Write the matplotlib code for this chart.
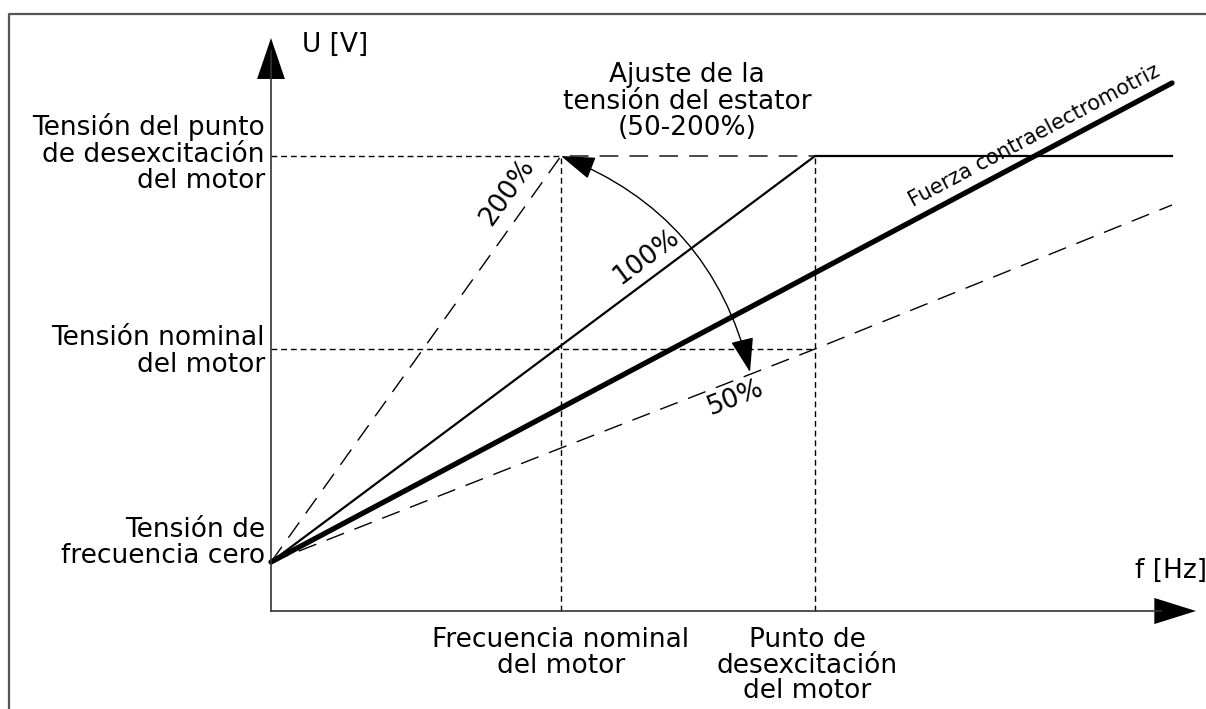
import matplotlib
matplotlib.use("Agg")
import matplotlib.pyplot as plt
from matplotlib.patches import FancyArrowPatch, ArrowStyle

# ---------------- data (diagram units: f to the right, U upwards) ----------------
F_NOM = 290          # nominal motor frequency
F_FW = 544           # field weakening point
F_END = 901          # end of drawn curves
U_ZERO = 49          # zero frequency voltage
U_NOM = 262          # nominal motor voltage
U_FW = 455           # field weakening point voltage

curve_100_f = [0, F_FW, F_END]
curve_100_u = [U_ZERO, U_FW, U_FW]
curve_200_f = [0, F_NOM, F_FW]
curve_200_u = [U_ZERO, U_FW, U_FW]
curve_50_f = [0, F_NOM, F_FW, F_END]
curve_50_u = [U_ZERO, 163, U_NOM, 406]
emf_f = [0, F_END]
emf_u = [U_ZERO, 528]

left_labels = [
    (["Tensión del punto", "de desexcitación", "del motor"], [476, 449, 423]),
    (["Tensión nominal", "del motor"], [266, 239]),
    (["Tensión de", "frecuencia cero"], [74, 48]),
]
bottom_labels = [
    (["Frecuencia nominal", "del motor"], F_NOM, [-36, -62]),
    (["Punto de", "desexcitación", "del motor"], 536, [-36, -62, -87]),
]
title_lines = ["Ajuste de la", "tensión del estator", "(50-200%)"]
title_base = [529, 502, 476]

FS = 19

fig = plt.figure(figsize=(12.06, 7.09), dpi=100)
ax = fig.add_axes([0, 0, 1, 1])
ax.set_xlim(-271, 935)
ax.set_ylim(-98, 611)
ax.axis("off")

# frame (top and left border)
ax.plot([-262, -262, 950], [-120, 597, 597], color="#555555", lw=1.6,
        clip_on=False, solid_capstyle="butt")

# reference (fine dashed) lines
fine = dict(color="black", lw=1.0, dashes=(4.2, 2.8))
ax.plot([0, F_NOM], [U_FW, U_FW], **fine)
ax.plot([0, F_FW], [U_NOM, U_NOM], **fine)
ax.plot([F_NOM, F_NOM], [0, U_FW], **fine)
ax.plot([F_FW, F_FW], [0, U_FW], **fine)

# curves
longd = dict(color="black", lw=1.0, dashes=(13.5, 8.0))
ax.plot(curve_200_f, curve_200_u, **longd)
ax.plot(curve_50_f, curve_50_u, **longd)
ax.plot(curve_100_f, curve_100_u, color="black", lw=1.6, solid_joinstyle="miter")
ax.plot(emf_f, emf_u, color="black", lw=3.8, solid_capstyle="round")

# axes with arrows
ax.plot([0, 0], [0, 560], color="#333333", lw=1.2)
ax.plot([0, 890], [0, 0], color="#333333", lw=1.2)
ax.add_patch(FancyArrowPatch((0, 520), (0, 573),
             arrowstyle=ArrowStyle("-|>", head_length=29.5, head_width=10),
             mutation_scale=1, color="black", lw=0, shrinkA=0, shrinkB=0))
ax.add_patch(FancyArrowPatch((870, 0), (925, 0),
             arrowstyle=ArrowStyle("-|>", head_length=30, head_width=9.4),
             mutation_scale=1, color="black", lw=0, shrinkA=0, shrinkB=0))

# arc double arrow
ax.add_patch(FancyArrowPatch((F_NOM, U_FW), (479, 239),
             arrowstyle=ArrowStyle("<|-|>", head_length=21.5, head_width=7.2),
             connectionstyle="arc3,rad=-0.26", mutation_scale=1,
             color="black", lw=1.0, shrinkA=0, shrinkB=0))

# axis labels
ax.text(31, 559, "U [V]", fontsize=FS, ha="left", va="baseline")
ax.text(864, 33, "f [Hz]", fontsize=FS, ha="left", va="baseline")

for lines, bases in left_labels:
    for s, b in zip(lines, bases):
        ax.text(-6, b, s, fontsize=FS, ha="right", va="baseline")
for lines, xc, bases in bottom_labels:
    for s, b in zip(lines, bases):
        ax.text(xc, b, s, fontsize=FS, ha="center", va="baseline")
for s, b in zip(title_lines, title_base):
    ax.text(416, b, s, fontsize=FS, ha="center", va="baseline")

# rotated labels
rot = dict(ha="center", va="center", rotation_mode="anchor")
ax.text(236, 419, "200%", fontsize=FS, rotation=54.5, **rot)
ax.text(375, 354, "100%", fontsize=FS, rotation=36.7, **rot)
ax.text(465, 213, "50%", fontsize=FS, rotation=21.4, **rot)
ax.text(763, 475, "Fuerza contraelectromotriz", fontsize=15, rotation=28.0, **rot)

fig.savefig("out.png", dpi=100)
